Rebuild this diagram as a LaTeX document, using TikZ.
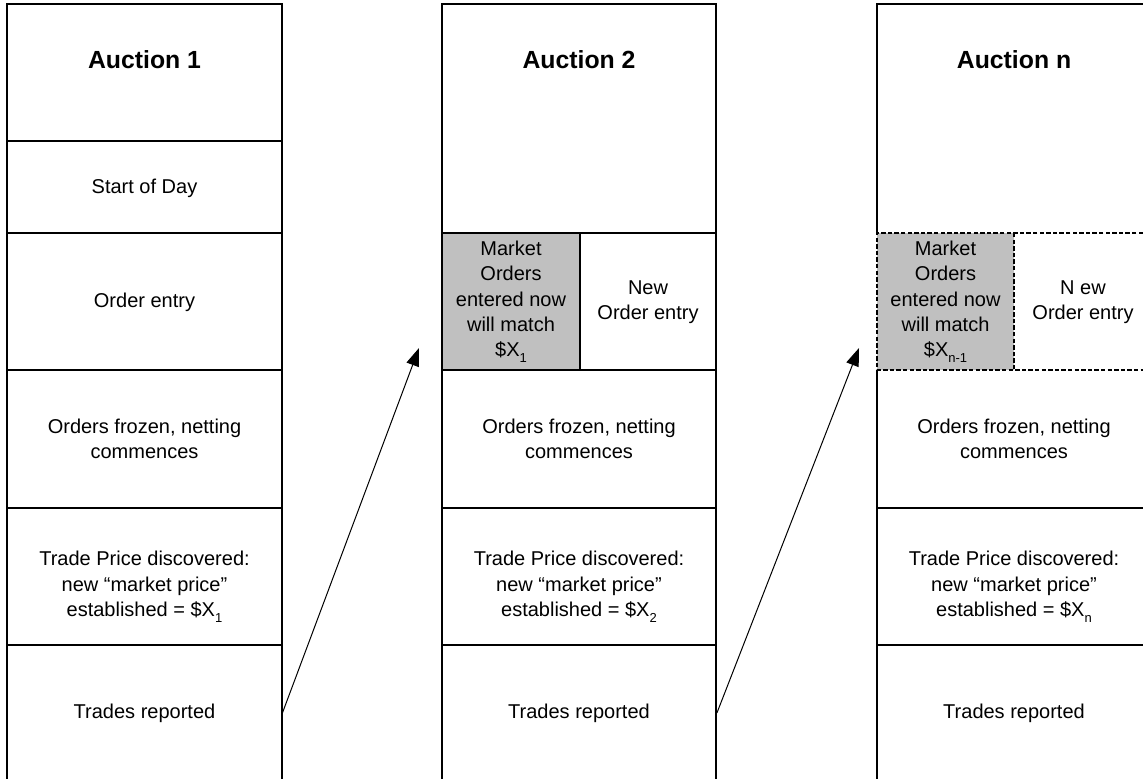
\documentclass[tikz,border=0pt]{standalone}
\usepackage{fontspec}
\setmainfont{Liberation Sans}
\usetikzlibrary{arrows.meta}
\definecolor{shadegray}{RGB}{192,192,192}
\newcommand{\lowsub}[1]{\raisebox{-0.32em}{\fontsize{6.5}{7}\selectfont #1}}
\begin{document}
\begin{tikzpicture}[x=0.5pt,y=-0.5pt,
  solidline/.style={line width=0.6pt},
  dashline/.style={line width=0.6pt, dash pattern=on 2.2pt off 1.1pt},
  txt/.style={font=\fontsize{10}{12.6}\selectfont, align=center, inner sep=0pt},
  titletxt/.style={font=\fontsize{12.4}{14}\selectfont\bfseries, inner sep=0pt},
  fullcell/.style={minimum width=137.5pt},
  arr/.style={line width=0.5pt, -{Triangle[length=9pt,width=6.5pt]}}]
\useasboundingbox (0,0) rectangle (1143,779);

% ---------- Column 1 ----------
\draw[solidline] (7,779) -- (7,4) -- (282,4) -- (282,779);
\foreach \yy in {141,233,370,508,645} \draw[solidline] (7,\yy) -- (282,\yy);

% ---------- Column 2 ----------
\fill[shadegray] (442,233) rectangle (580,370);
\draw[solidline] (442,779) -- (442,4) -- (716,4) -- (716,779);
\foreach \yy in {233,370,508,645} \draw[solidline] (442,\yy) -- (716,\yy);
\draw[solidline] (580,233) -- (580,370);

% ---------- Column 3 ----------
\fill[shadegray] (877,233) rectangle (1014,370);
\draw[solidline] (877,233) -- (877,4) -- (1143,4);
\draw[solidline] (877,779) -- (877,370);
\foreach \yy in {508,645} \draw[solidline] (877,\yy) -- (1143,\yy);
\draw[dashline] (1143,233) -- (877,233) -- (877,370) -- (1143,370);
\draw[dashline] (1014,233) -- (1014,370);

% ---------- Texts column 1 ----------
\node[titletxt] (a1title) at (144.5,60) {Auction 1};
\node[txt] (a1start) at (144.5,188) {Start of Day};
\node[txt] (a1entry) at (144.5,302) {Order entry};
\node[txt] (a1frozen) at (144.5,439) {Orders frozen, netting\\commences};
\node[txt] (a1price) at (144.5,587) {Trade Price discovered:\\new “market price”\\established = \$X\lowsub{1}};
\node[txt,fullcell] (a1trades) at (144.5,713) {Trades reported};

% ---------- Texts column 2 ----------
\node[titletxt] (a2title) at (579,60) {Auction 2};
\node[txt] (a2market) at (511,302) {Market\\Orders\\entered now\\will match\\\$X\lowsub{1}};
\node[txt] (a2entry) at (648,302) {New\\Order entry};
\node[txt] (a2frozen) at (579,439) {Orders frozen, netting\\commences};
\node[txt] (a2price) at (579,587) {Trade Price discovered:\\new “market price”\\established = \$X\lowsub{2}};
\node[txt,fullcell] (a2trades) at (579,713) {Trades reported};

% ---------- Texts column 3 ----------
\node[titletxt] (a3title) at (1014,60) {Auction n};
\node[txt] (a3market) at (945.5,302) {Market\\Orders\\entered now\\will match\\\$X\lowsub{n-1}};
\node[txt] (a3entry) at (1083,302) {N ew\\Order entry};
\node[txt] (a3frozen) at (1014,439) {Orders frozen, netting\\commences};
\node[txt] (a3price) at (1014,587) {Trade Price discovered:\\new “market price”\\established = \$X\lowsub{n}};
\node[txt] (a3trades) at (1014,713) {Trades reported};

% ---------- Arrows ----------
\coordinate (tip1) at (419,348);
\coordinate (tip2) at (859,348);
\draw[arr] (a1trades.east) -- (tip1);
\draw[arr] (a2trades.east) -- (tip2);
\end{tikzpicture}
\end{document}
